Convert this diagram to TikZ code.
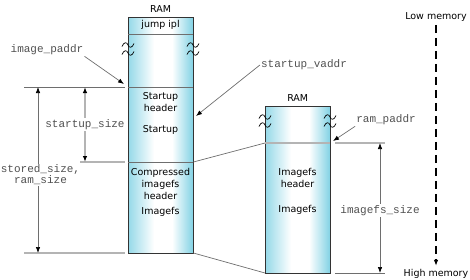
\documentclass[tikz,border=0pt]{standalone}
\usepackage{fontspec}
\setmainfont{DejaVu Sans}
\setmonofont{Liberation Mono}
\usetikzlibrary{arrows.meta, positioning}

\definecolor{ramcyan}{RGB}{130,210,228}
\definecolor{linegray}{RGB}{110,110,110}
\definecolor{palegray}{RGB}{180,180,180}
\definecolor{labelgray}{RGB}{80,80,80}

\begin{document}
\begin{tikzpicture}[
  x=1pt, y=-1pt,
  >={Latex[length=6pt, width=4.5pt, color=black]},
  font=\fontsize{9.5}{12}\selectfont,
  ram/.style={draw=black!80, minimum width=65pt, inner sep=0pt, anchor=north west,
    path picture={
      \foreach \i in {0,...,64} {
        \pgfmathsetmacro\p{\i<26 ? 85*(1-\i/26) : (\i>44 ? 95*(\i-44)/20 : 0)}
        \fill[ramcyan!\p!white] ([xshift=\i pt]path picture bounding box.south west) rectangle ([xshift={(\i+1.4)*1pt}]path picture bounding box.north west);
      }}},
  sizelbl/.style={font=\fontsize{11}{11}\selectfont\ttfamily, text=labelgray, fill=white, inner sep=1pt, align=center},
  addrlbl/.style={font=\fontsize{11}{11}\selectfont\ttfamily, text=labelgray, inner sep=1pt},
  dark/.style={draw=linegray, line width=0.7pt},
  pale/.style={draw=palegray, line width=1.2pt},
  squig/.pic={\draw[line width=0.7pt] (-6,1.5) .. controls (-4,-3.5) and (-1,-3) .. (0,0) .. controls (1,3) and (4,3.5) .. (6,-1.5);}
]
  \useasboundingbox (0,0) rectangle (470,279);

  % levels
  \coordinate (yJmp) at (0,34);
  \coordinate (yStart) at (0,87);
  \coordinate (yComp) at (0,162);
  \coordinate (yEndA) at (0,253);
  \coordinate (yImg) at (0,143);
  \coordinate (yEndB) at (0,273);

  % RAM columns
  \node[ram, minimum height=236pt] (ramA) at (128,17) {};
  \node[ram, minimum height=167pt] (ramB) at (265,106) {};
  \node[above=1pt of ramA] (ramAlbl) {RAM};
  \node[above=1pt of ramB] (ramBlbl) {RAM};

  \draw[linegray] (ramA.west |- yJmp) -- (ramA.east |- yJmp);
  \draw[linegray] (ramA.west |- yStart) -- (ramA.east |- yStart);
  \draw[linegray] (ramA.west |- yComp) -- (ramA.east |- yComp);
  \draw[pale] (ramB.west |- yImg) -- (ramB.east |- yImg);

  \foreach \sx in {128,193} \foreach \sy in {45,53} \pic at (\sx,\sy) {squig};
  \foreach \sx in {265,330} \foreach \sy in {117,125} \pic at (\sx,\sy) {squig};

  % contents
  \node (jump) at (160.5,25) {jump ipl};
  \node[align=center] (suphdr) at (160.5,102) {Startup\\header};
  \node (sup) at (160.5,130) {Startup};
  \node[align=center] (cmphdr) at (160.5,184) {Compressed\\imagefs\\header};
  \node (cmpimg) at (160.5,212) {Imagefs};
  \node[align=center] (imghdr) at (297.5,178) {Imagefs\\header};
  \node (img) at (297.5,210) {Imagefs};

  % extension lines
  \coordinate (stL) at (24,87);    \coordinate (stR) at (125,87);
  \coordinate (cpL) at (80,162);   \coordinate (cpR) at (125,162);
  \coordinate (enL) at (24,253);   \coordinate (enR) at (125,253);
  \coordinate (imL) at (335,143);  \coordinate (imR) at (385,143);
  \coordinate (ebL) at (335,273);  \coordinate (ebR) at (385,273);
  \draw[dark] (stL) -- (stR);
  \draw[pale] (cpL) -- (cpR);
  \draw[pale] (enL) -- (enR);
  \draw[pale] (imL) -- (imR);
  \draw[dark] (ebL) -- (ebR);

  % copy of the image
  \draw[dark] (ramA.east |- yComp) -- (ramB.west |- yImg);
  \draw[dark] (ramA.east |- yEndA) -- (ramB.west |- yEndB);

  % sizes
  \draw[dark, <->] (38,87) -- (38,253);
  \node[sizelbl] (storedsz) at (40.5,175) {stored\_size,\\ram\_size};
  \draw[pale, <->] (85,87) -- (85,162) node[sizelbl, midway] (startsz) {startup\_size};
  \draw[dark, <->] (380,143) -- (380,273) node[sizelbl, pos=0.52] (imgsz) {imagefs\_size};

  % addresses
  \node[addrlbl] (imgpaddr) at (47,50) {image\_paddr};
  \node[addrlbl] (supvaddr) at (304,65) {startup\_vaddr};
  \node[addrlbl] (rampaddr) at (386,120) {ram\_paddr};
  \coordinate (imgpaddrPt) at (124,84);
  \coordinate (supvaddrPt) at (196,116);
  \coordinate (rampaddrPt) at (333,141);
  \draw[dark, ->] (imgpaddr.south east) -- (imgpaddrPt);
  \draw[dark, ->] (supvaddr.west) -- (supvaddrPt);
  \draw[dark, ->] (rampaddr.south west) -- (rampaddrPt);

  % memory direction
  \node (lowmem) at (436,17) {Low memory};
  \node (highmem) at (436,274) {High memory};
  \draw[line width=1.6pt, dash pattern=on 8pt off 5pt, ->] (lowmem) -- (highmem);
\end{tikzpicture}
\end{document}
